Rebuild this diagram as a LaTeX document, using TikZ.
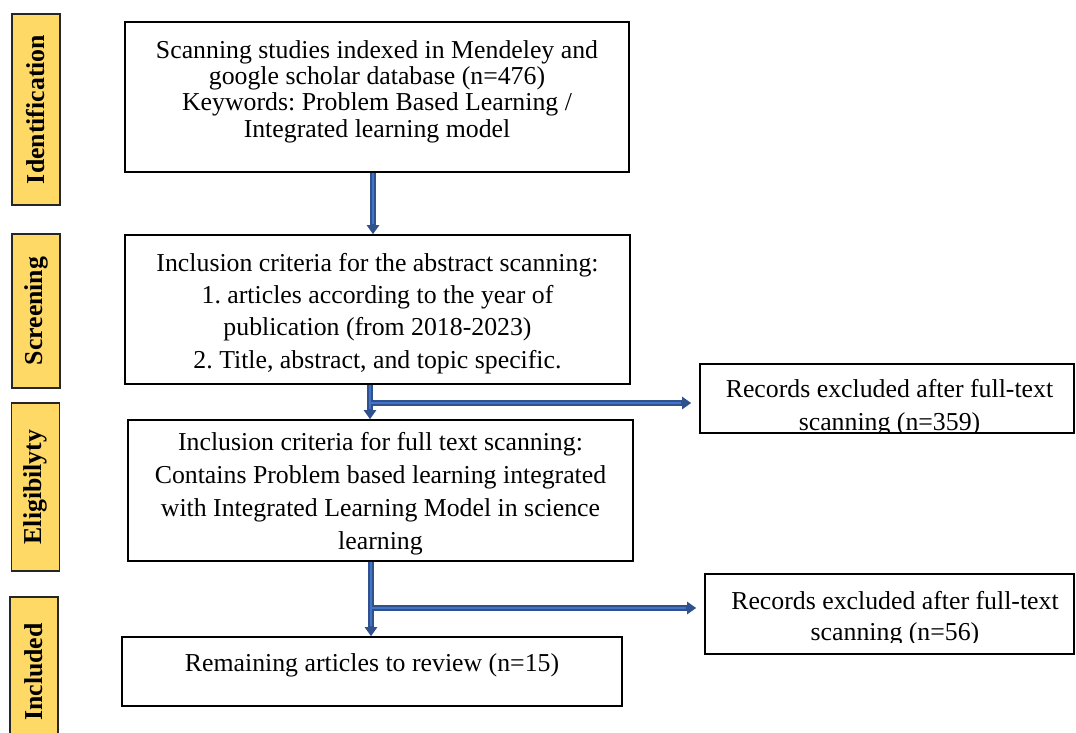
\documentclass[tikz,border=0pt]{standalone}
\usepackage{fontspec}
\setmainfont{Liberation Serif}
\usetikzlibrary{arrows.meta}
\definecolor{arrowdark}{RGB}{47,82,143}
\definecolor{arrowfill}{RGB}{68,114,196}
\definecolor{labelyellow}{RGB}{255,217,102}
\frenchspacing
\begin{document}
\begin{tikzpicture}[x=1pt,y=-1pt,
  mainbox/.style={draw=black, line width=1.6pt, rectangle, inner sep=0pt},
  stagelabel/.style={draw=black!85, line width=1.8pt, fill=labelyellow, rotate=90,
    minimum height=48pt, inner sep=0pt, font=\fontsize{25.8}{30}\selectfont\bfseries},
  boxtext/.style={align=center, inner sep=0pt},
  flowarrow/.style={draw=arrowdark, line width=5.5pt, -{Triangle[length=9pt,width=12pt]}},
  flowinner/.style={draw=arrowfill, line width=2.4pt}
]
\clip (0,0) rectangle (1076,733);

% stage labels
\node[stagelabel, minimum width=191pt] (sId) at (36,109.5) {Identification};
\node[stagelabel, minimum width=154pt] (sSc) at (36,311) {Screening};
\node[stagelabel, minimum width=168pt] (sEl) at (35.5,487) {Eligibilyty};
\node[stagelabel, minimum width=150pt] (sIn) at (34,672) {Included};

% main boxes
\node[mainbox, minimum width=504pt, minimum height=150pt] (b1) at (377,97) {};
\node[mainbox, minimum width=505pt, minimum height=149pt] (b2) at (377.5,309.5) {};
\node[mainbox, minimum width=505pt, minimum height=141pt] (b3) at (380.5,490.5) {};
\node[mainbox, minimum width=500pt, minimum height=69pt] (b4) at (372,671.5) {};
\node[mainbox, minimum width=374pt, minimum height=69pt] (exA) at (887,398.5) {};
\node[mainbox, minimum width=369pt, minimum height=80pt] (exB) at (889.5,614) {};

% texts
\node[boxtext, font=\fontsize{25.8}{26.3}\selectfont] (t1) at (377,91.5)
  {Scanning studies indexed in Mendeley and\\google scholar database (n=476)\\Keywords: Problem Based Learning /\\Integrated learning model};
\node[boxtext, font=\fontsize{25.8}{32.3}\selectfont] (t2) at (377.5,313.5)
  {Inclusion criteria for the abstract scanning:\\1. articles according to the year of\\publication (from 2018-2023)\\2. Title, abstract, and topic specific.};
\node[boxtext, font=\fontsize{25.8}{33}\selectfont] (t3) at (380.5,494)
  {Inclusion criteria for full text scanning:\\Contains Problem based learning integrated\\with Integrated Learning Model in science\\learning};
\node[boxtext, font=\fontsize{25.8}{30}\selectfont, anchor=base] (t4) at (372,671)
  {Remaining articles to review (n=15)};
\begin{scope}
  \clip (701,365) rectangle (1073,431);
  \node[boxtext, font=\fontsize{25.8}{33}\selectfont] (tA) at (889.5,407.5)
    {Records excluded after full-text\\scanning (n=359)};
\end{scope}
\begin{scope}
  \clip (706,575) rectangle (1073,642);
  \node[boxtext, font=\fontsize{25.8}{31}\selectfont] (tB) at (895,619)
    {Records excluded after full-text\\scanning (n=56)};
\end{scope}

% connectors
\coordinate (c1) at (373,0);
\coordinate (c2) at (370,403);
\coordinate (c3) at (371,608);
\draw[flowarrow] (b1.south -| c1) -- (b2.north -| c1);
\draw[flowarrow] (b2.south -| c2) -- (b3.north -| c2);
\draw[flowarrow, shorten >=8pt] (c2) -- (c2 -| exA.west);
\draw[flowarrow] (b3.south -| c3) -- (b4.north -| c3);
\draw[flowarrow, shorten >=8pt] (c3) -- (c3 -| exB.west);
\draw[flowinner, shorten >=10pt] (b1.south -| c1) -- (b2.north -| c1);
\draw[flowinner, shorten >=10pt] (b2.south -| c2) -- (b3.north -| c2);
\draw[flowinner, shorten >=18pt] (c2) -- (c2 -| exA.west);
\draw[flowinner, shorten >=10pt] (b3.south -| c3) -- (b4.north -| c3);
\draw[flowinner, shorten >=18pt] (c3) -- (c3 -| exB.west);
\end{tikzpicture}
\end{document}
